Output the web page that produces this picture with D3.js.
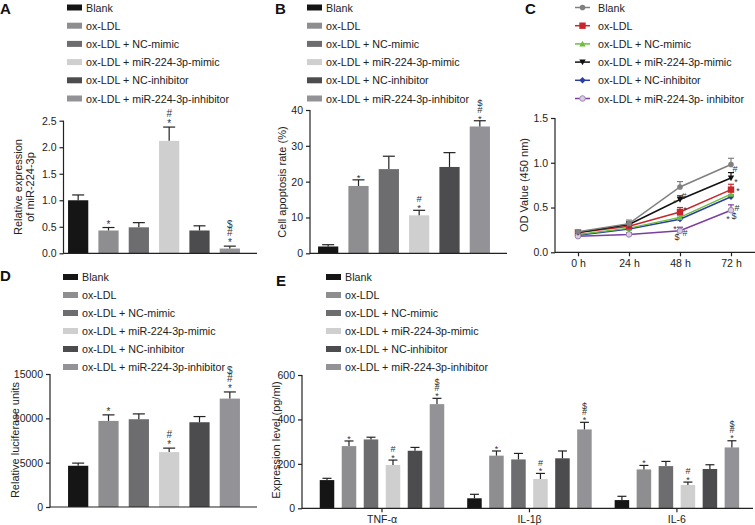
<!DOCTYPE html>
<html><head><meta charset="utf-8">
<script src="https://cdn.jsdelivr.net/npm/d3@7"></script>
<style>
body{margin:0;background:#fff;}
text{font-family:"Liberation Sans",Arial,Helvetica,sans-serif;fill:#222;}
</style></head>
<body><svg id="c" width="755" height="525"></svg>
<script>
// ---------- data ----------
const groups = ["Blank","ox-LDL","ox-LDL + NC-mimic","ox-LDL + miR-224-3p-mimic","ox-LDL + NC-inhibitor","ox-LDL + miR-224-3p-inhibitor"];
const groupsC = ["Blank","ox-LDL","ox-LDL + NC-mimic","ox-LDL + miR-224-3p-mimic","ox-LDL + NC-inhibitor","ox-LDL + miR-224-3p- inhibitor"];
const barColors = ["#151515","#8e8e90","#6d6d6f","#cfcfcf","#4c4c4e","#939397"];
const sig = ["", "*", "", "*#", "", "*#$"];

// Panel A: relative expression of miR-224-3p
const aMean = [1.00, 0.43, 0.49, 2.12, 0.43, 0.09];
const aErr  = [0.10, 0.056, 0.088, 0.26, 0.088, 0.045];
const aTicks = [0, 0.5, 1.0, 1.5, 2.0, 2.5];
// Panel B: apoptosis rate
const bMean = [1.9, 18.8, 23.5, 10.6, 24.1, 35.4];
const bErr  = [0.5, 1.7, 3.6, 1.4, 4.0, 1.6];
const bTicks = [0, 10, 20, 30, 40];
// Panel C: OD value
const times = ["0 h","24 h","48 h","72 h"];
const cMean = [
  [0.23, 0.32, 0.73, 0.98],
  [0.22, 0.29, 0.45, 0.70],
  [0.20, 0.27, 0.39, 0.65],
  [0.22, 0.31, 0.59, 0.83],
  [0.19, 0.26, 0.37, 0.62],
  [0.18, 0.20, 0.24, 0.47]
];
const cErr = [
  [0.02, 0.04, 0.06, 0.07],
  [0.02, 0.02, 0.05, 0.06],
  [0.01, 0.02, 0.02, 0.03],
  [0.02, 0.03, 0.04, 0.06],
  [0.01, 0.02, 0.02, 0.02],
  [0.01, 0.02, 0.04, 0.06]
];
const cColors = ["#808080","#c8262c","#6cbf3c","#111111","#2a3fa0","#7b3fa0"];
const cShapes = ["circle","square","triangle","invtriangle","diamond","opencircle"];
const cTicks = [0, 0.5, 1.0, 1.5];
// Panel D: luciferase
const dMean = [4650, 9710, 9900, 6190, 9560, 12225];
const dErr  = [300, 680, 600, 450, 640, 750];
const dTicks = [0, 5000, 10000, 15000];
// Panel E: cytokines
const cytokines = ["TNF-α","IL-1β","IL-6"];
const eMean = [
  [127, 280, 310, 195, 259, 469],
  [45, 237, 220, 132, 225, 355],
  [37, 175, 190, 105, 177, 274]
];
const eErr = [
  [8, 23, 10, 22, 15, 26],
  [18, 21, 27, 25, 33, 32],
  [17, 18, 21, 13, 19, 30]
];
const eTicks = [0, 200, 400, 600];

// ---------- helpers ----------
const svg = d3.select("#c");
const TICKF = 10.5, LABF = 11;

function panelLetter(x, y, t){
  svg.append("text").attr("x", x).attr("y", y).attr("font-size", 15).attr("font-weight", "bold").style("fill","#111").text(t);
}
function barLegend(x, y0, step, labels){
  const g = svg.append("g");
  labels.forEach((l, i) => {
    const cy = y0 + i*step;
    g.append("rect").attr("x", x).attr("y", cy-3).attr("width", 15).attr("height", 6).attr("fill", barColors[i]);
    g.append("text").attr("x", x+19).attr("y", cy+4).attr("font-size", 10.7).text(l);
  });
}
// one text element holding several significance glyphs (each as a tspan)
function sigGroup(g, items, fs){
  if(!items.length) return;
  const t = g.append("text").attr("text-anchor","middle").attr("font-size", fs).style("fill","#333");
  items.forEach(it=>{
    const off = it.ch === "*" ? fs*0.62 : fs*0.36;
    t.append("tspan").attr("x", it.x).attr("y", it.y+off).text(it.ch);
  });
}
function yAxis(g, y, x0, ticks, fmt){
  const ax = g.append("g").attr("transform", `translate(${x0},0)`)
    .call(d3.axisLeft(y).tickValues(ticks).tickFormat(d3.format(fmt)).tickSize(4).tickPadding(3).tickSizeOuter(0));
  ax.selectAll("line").attr("stroke","#222").attr("stroke-width",1.2);
  ax.selectAll("text").attr("font-size", TICKF).style("fill","#222");
  ax.select(".domain").remove();
  g.append("line").attr("x1",x0).attr("x2",x0).attr("y1",y.range()[0]+0.6).attr("y2",y.range()[1]).attr("stroke","#222").attr("stroke-width",1.2);
}
function yLabel(x, cy, lines){
  // x = baseline of the last line
  const t = svg.append("text").attr("transform", `translate(${x},${cy}) rotate(-90)`).attr("text-anchor","middle").attr("font-size", LABF);
  lines.forEach((l,i)=>{ t.append("tspan").attr("x",0).attr("dy", i===0? -(lines.length-1)*12 : 12).text(l); });
}
function barPanel(opt){
  const g = svg.append("g");
  const x = d3.scaleBand().domain(d3.range(6)).range(opt.xr).paddingInner(1/3).paddingOuter(1/6);
  const y = d3.scaleLinear().domain([0, opt.max]).range(opt.yr);
  yAxis(g, y, opt.ax, opt.ticks, opt.fmt);
  g.selectAll("rect.bar").data(opt.mean).join("rect").attr("class","bar")
    .attr("x",(d,i)=>x(i)).attr("width",x.bandwidth())
    .attr("y",d=>y(d)).attr("height",d=>y(0)-y(d))
    .attr("fill",(d,i)=>barColors[i]);
  opt.mean.forEach((m,i)=>{
    const cx = x(i)+x.bandwidth()/2, yt = y(m+opt.err[i]);
    g.append("line").attr("x1",cx).attr("x2",cx).attr("y1",y(m)).attr("y2",yt).attr("stroke","#222").attr("stroke-width",1.2);
    g.append("line").attr("x1",cx-opt.cap/2).attr("x2",cx+opt.cap/2).attr("y1",yt).attr("y2",yt).attr("stroke","#222").attr("stroke-width",1.2);
    sigGroup(g, sig[i].split("").map((ch,k)=>({ch, x:cx, y:yt-opt.first-k*opt.gap})), opt.fs);
  });
  g.append("line").attr("x1",opt.ax).attr("x2",opt.xend).attr("y1",y(0)).attr("y2",y(0)).attr("stroke","#222").attr("stroke-width",1.2);
}

// ---------- Panel A ----------
panelLetter(0, 14, "A");
barLegend(67, 7.5, 18.2, groups);
barPanel({xr:[63,245], yr:[253.3,120.7], max:2.5, ax:63.5, xend:257, ticks:aTicks, fmt:".1f", mean:aMean, err:aErr, cap:12, first:6, gap:8, fs:10});
yLabel(34, 187, ["Relative expression","of miR-224-3p"]);

// ---------- Panel B ----------
panelLetter(275, 14, "B");
barLegend(307, 7.5, 18.2, groups);
barPanel({xr:[313,495], yr:[253.3,110], max:40, ax:310, xend:507, ticks:bTicks, fmt:"d", mean:bMean, err:bErr, cap:12, first:5, gap:6.5, fs:9.5});
yLabel(286, 182, ["Cell apoptosis rate (%)"]);

// ---------- Panel C ----------
panelLetter(525, 14, "C");
(function(){
  const g = svg.append("g");
  const x = d3.scalePoint().domain(times).range([578, 731]);
  const y = d3.scaleLinear().domain([0,1.5]).range([252.3,118]);
  yAxis(g, y, 555, cTicks, ".1f");
  g.append("line").attr("x1",555).attr("x2",755).attr("y1",y(0)).attr("y2",y(0)).attr("stroke","#222").attr("stroke-width",1.2);
  const xa = g.append("g").attr("transform",`translate(0,${y(0)})`).call(d3.axisBottom(x).tickSize(4).tickPadding(3).tickSizeOuter(0));
  xa.select(".domain").remove();
  xa.selectAll("line").attr("stroke","#222").attr("stroke-width",1.2);
  xa.selectAll("text").attr("font-size",TICKF).style("fill","#222");

  function marker(sel, shape, color, cx, cy){
    const s = 3.2;
    if(shape==="circle") sel.append("circle").attr("cx",cx).attr("cy",cy).attr("r",2.8).attr("fill",color);
    else if(shape==="opencircle") sel.append("circle").attr("cx",cx).attr("cy",cy).attr("r",2.8).attr("fill","#d8cfe0").attr("stroke","#9a86b0").attr("stroke-width",1);
    else if(shape==="square") sel.append("rect").attr("x",cx-s).attr("y",cy-s).attr("width",2*s).attr("height",2*s).attr("fill",color);
    else if(shape==="triangle") sel.append("path").attr("d",`M${cx},${cy-s}L${cx+s},${cy+s*0.8}L${cx-s},${cy+s*0.8}Z`).attr("fill",color);
    else if(shape==="invtriangle") sel.append("path").attr("d",`M${cx},${cy+s}L${cx+s},${cy-s*0.8}L${cx-s},${cy-s*0.8}Z`).attr("fill",color);
    else if(shape==="diamond") sel.append("path").attr("d",`M${cx},${cy-s}L${cx+s},${cy}L${cx},${cy+s}L${cx-s},${cy}Z`).attr("fill",color);
  }
  const line = d3.line().x((d,i)=>x(times[i])).y(d=>y(d));
  [4,2,1,5,3,0].forEach(si=>{
    const col = cColors[si];
    g.append("path").attr("d", line(cMean[si])).attr("fill","none").attr("stroke",col).attr("stroke-width",1.5);
    cMean[si].forEach((v,i)=>{
      const cx = x(times[i]), yt = y(v+cErr[si][i]);
      g.append("line").attr("x1",cx).attr("x2",cx).attr("y1",y(v)).attr("y2",yt).attr("stroke",col).attr("stroke-width",1.2);
      g.append("line").attr("x1",cx-3).attr("x2",cx+3).attr("y1",yt).attr("y2",yt).attr("stroke",col).attr("stroke-width",1.2);
      marker(g, cShapes[si], col, cx, y(v));
    });
  });
  // significance marks, offsets relative to the data points (series, time index)
  const marks = [
    {s:3,t:2,list:[{dx:-5,dy:1,ch:"*"},{dx:4,dy:-4,ch:"#"}]},
    {s:1,t:2,list:[{dx:5,dy:-5,ch:"*"}]},
    {s:5,t:2,list:[{dx:-5,dy:-4,ch:"*"},{dx:-3,dy:6,ch:"$"},{dx:5,dy:2,ch:"#"}]},
    {s:3,t:3,list:[{dx:4,dy:-9,ch:"#"},{dx:5,dy:1,ch:"*"}]},
    {s:1,t:3,list:[{dx:7,dy:-1,ch:"*"}]},
    {s:5,t:3,list:[{dx:6,dy:-2,ch:"#"},{dx:-3,dy:6,ch:"*"},{dx:3,dy:6,ch:"$"}]}
  ];
  marks.forEach(m=>{
    const px = x(times[m.t]), py = y(cMean[m.s][m.t]);
    sigGroup(g, m.list.map(o=>({ch:o.ch, x:px+o.dx, y:py+o.dy})), 9);
  });

  const lg = svg.append("g");
  groupsC.forEach((l,i)=>{
    const cy = 7.5 + i*18.2;
    lg.append("line").attr("x1",575).attr("x2",590).attr("y1",cy).attr("y2",cy).attr("stroke",cColors[i]).attr("stroke-width",1.5);
    marker(lg, cShapes[i], cColors[i], 582.5, cy);
    lg.append("text").attr("x",598).attr("y",cy+4).attr("font-size",10.7).text(l);
  });
})();
yLabel(528, 185, ["OD Value (450 nm)"]);

// ---------- Panel D ----------
panelLetter(0, 281, "D");
barLegend(63, 277, 18, groups);
barPanel({xr:[63,245], yr:[507,374], max:15000, ax:50, xend:257, ticks:dTicks, fmt:"d", mean:dMean, err:dErr, cap:12, first:6, gap:8, fs:10});
yLabel(19, 440, ["Relative luciferase units"]);

// ---------- Panel E ----------
panelLetter(276, 286, "E");
barLegend(326, 277, 18, groups);
(function(){
  const g = svg.append("g");
  const x0 = d3.scaleBand().domain(cytokines).range([316, 742.9]).paddingInner(0.105).paddingOuter(0);
  const x1 = d3.scaleBand().domain(d3.range(6)).range([0, x0.bandwidth()]).paddingInner(0.34).paddingOuter(0.17);
  const y = d3.scaleLinear().domain([0,600]).range([508.3,375]);
  yAxis(g, y, 302, eTicks, "d");
  cytokines.forEach((c,ci)=>{
    eMean[ci].forEach((m,i)=>{
      const bx = x0(c)+x1(i), cx = bx + x1.bandwidth()/2, yt = y(m+eErr[ci][i]);
      g.append("rect").attr("x",bx).attr("width",x1.bandwidth()).attr("y",y(m)).attr("height",y(0)-y(m)).attr("fill",barColors[i]);
      g.append("line").attr("x1",cx).attr("x2",cx).attr("y1",y(m)).attr("y2",yt).attr("stroke","#222").attr("stroke-width",1.2);
      g.append("line").attr("x1",cx-4.5).attr("x2",cx+4.5).attr("y1",yt).attr("y2",yt).attr("stroke","#222").attr("stroke-width",1.2);
      sigGroup(g, sig[i].split("").map((ch,k)=>({ch, x:cx, y:yt-5-k*6})), 9);
    });
  });
  g.append("line").attr("x1",302).attr("x2",753).attr("y1",y(0)).attr("y2",y(0)).attr("stroke","#222").attr("stroke-width",1.2);
  const xa = g.append("g").attr("transform",`translate(0,${y(0)})`).call(d3.axisBottom(x0).tickSize(4).tickPadding(3).tickSizeOuter(0));
  xa.select(".domain").remove();
  xa.selectAll("line").attr("stroke","#222").attr("stroke-width",1.2);
  xa.selectAll("text").attr("font-size",TICKF).style("fill","#222");
})();
yLabel(280, 440, ["Expression level (pg/ml)"]);
</script></body></html>
